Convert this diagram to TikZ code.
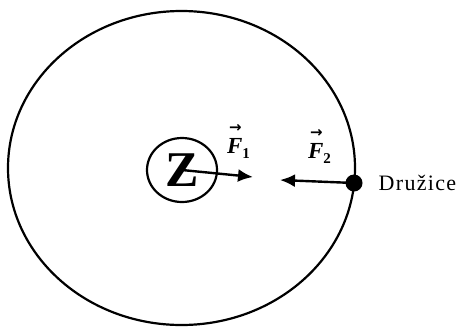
\documentclass[tikz,border=0pt]{standalone}
\usepackage{fontspec}
\setmainfont{Liberation Serif}
\newfontfamily\razmak[LetterSpace=6]{Liberation Serif}
\newfontfamily\strelica{DejaVu Sans}
\usetikzlibrary{arrows.meta,shapes.geometric}
\newcommand{\vektor}[2]{\makebox[0pt][l]{\hspace{2pt}\raisebox{21pt}{\fontsize{15}{15}\strelica\bfseries →}}%
    {\bfseries\itshape #1}\raisebox{-5pt}{\fontsize{15}{15}\selectfont\bfseries #2}}
\begin{document}
\begin{tikzpicture}[x=1pt,y=-1pt,line width=2.2pt,
    sila/.style={-{Latex[length=15pt,width=13pt]},line width=2.4pt},
    oznaka/.style={inner sep=0pt,anchor=base west,font=\fontsize{23}{23}\selectfont}]
    \useasboundingbox (0,0) rectangle (462,327);
    \draw (181.5,168) ellipse [x radius=173.5,y radius=157];
    \node[draw,ellipse,minimum width=70pt,minimum height=64pt,inner sep=0pt,
        font=\fontsize{50}{50}\selectfont\bfseries] (zeme) at (182,170) {Z};
    \node[circle,fill,minimum size=17pt,inner sep=0pt] (druzica) at (354,183) {};
    \node[right=14pt,inner sep=0pt,font=\fontsize{22}{22}\razmak] (ime) at (druzica.east) {Družice};
    \coordinate (k1) at (253,177);
    \coordinate (k2) at (280,180);
    \draw[sila] (zeme.center) -- (k1);
    \draw[sila] (druzica.center) -- (k2);
    \node[oznaka] (f1) at (226,153) {\vektor{F}{1}};
    \node[oznaka] (f2) at (307,158) {\vektor{F}{2}};
\end{tikzpicture}
\end{document}
